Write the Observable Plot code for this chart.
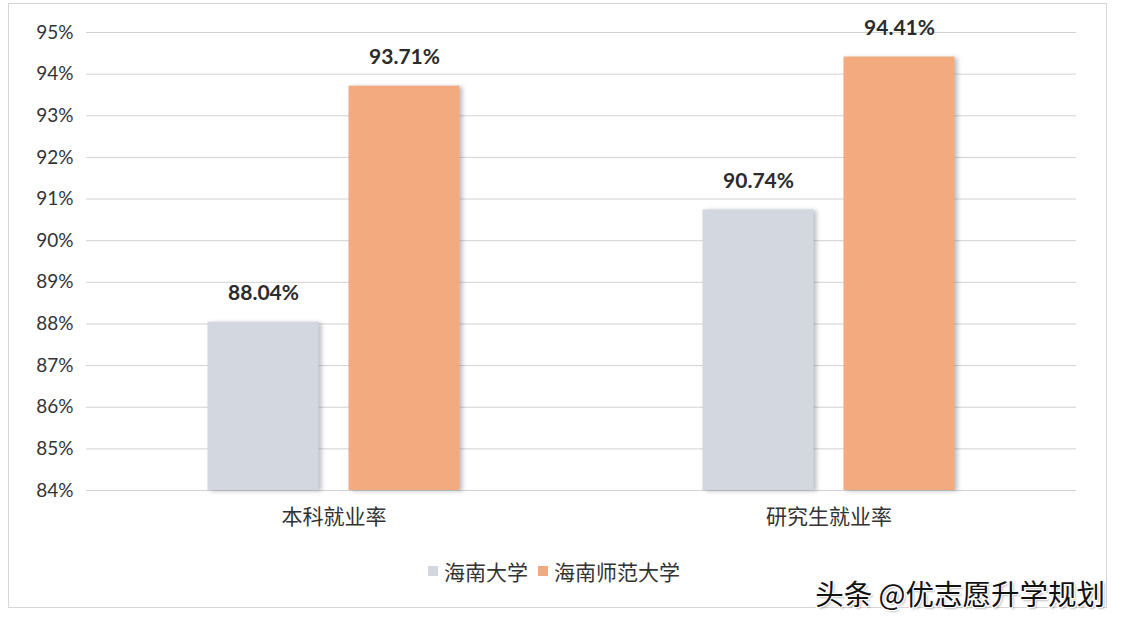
<!DOCTYPE html>
<html>
<head>
<meta charset="utf-8">
<script src="https://cdn.jsdelivr.net/npm/d3@7"></script>
<script src="https://cdn.jsdelivr.net/npm/@observablehq/plot@0.6"></script>
<style>
  html, body { margin: 0; padding: 0; background: #fff; }
  #wrap { position: relative; width: 1124px; height: 624px; overflow: hidden; font-family: Lato, "Noto Sans CJK SC", sans-serif; }
  #frame { position: absolute; left: 8px; top: 3px; width: 1099px; height: 605px; border: 1px solid #d6d6d6; box-sizing: border-box; }
  #chart { position: absolute; left: 0; top: 0; }
  #chart svg g[aria-label="bar"] rect { filter: drop-shadow(3px 1px 2px rgba(90,95,110,0.4)); }
  #legend { position: absolute; top: 556px; left: 428px; display: flex; align-items: center; font-family: "Noto Sans CJK SC", sans-serif; font-size: 21px; color: #333; }
  #legend .sw { width: 10px; height: 10px; display: inline-block; margin-right: 6px; }
  #legend .item { display: flex; align-items: center; margin-right: 10px; }
  #wm { position: absolute; right: 19px; top: 572px; font-family: "Noto Sans CJK SC", sans-serif; font-size: 28.5px; color: #111;
        text-shadow: 1px 1px 0 #fff, -1px -1px 0 #fff, 1px -1px 0 #fff, -1px 1px 0 #fff, 2px 2px 2px rgba(0,0,0,0.25); }
</style>
</head>
<body>
<div id="wrap">
  <div id="frame"></div>
  <div id="chart"></div>
  <div id="legend"></div>
  <div id="wm">头条 @优志愿升学规划</div>
</div>
<script>
const categories = ["本科就业率", "研究生就业率"];
const schools = ["海南大学", "海南师范大学"];
const hainanU = [88.04, 90.74];
const hainanNormalU = [93.71, 94.41];
const colors = ["#d3d8e0", "#f3aa7e"];
const yTicks = [84, 85, 86, 87, 88, 89, 90, 91, 92, 93, 94, 95];

const rows = [];
categories.forEach((c, i) => {
  rows.push({cat: c, school: schools[0], value: hainanU[i]});
  rows.push({cat: c, school: schools[1], value: hainanNormalU[i]});
});
const half = 70.5;
const offsets = [-half, half];

const marks = [
  Plot.ruleY(yTicks, {stroke: "#d2d2d2", strokeWidth: 1})
];
schools.forEach((s, k) => {
  const sub = rows.filter(r => r.school === s);
  marks.push(Plot.barY(sub, {x: "cat", y1: () => 84, y2: "value", fill: colors[k], dx: offsets[k], insetLeft: 0, insetRight: 0}));
  marks.push(Plot.text(sub, {x: "cat", y: "value", text: d => d.value.toFixed(2) + "%", dx: offsets[k], dy: -29,
    fontSize: 21, fontWeight: "bold", fill: "#2b2b2b", fontFamily: "Lato, 'Noto Sans', sans-serif", letterSpacing: "0.5px"}));
});
marks.push(Plot.axisY({ticks: yTicks, tickFormat: d => d + "%", tickSize: 0, tickPadding: 13, fontSize: 19, fill: "#333", fontFamily: "Lato, 'Noto Sans', sans-serif", label: null}));
marks.push(Plot.axisX({tickSize: 0, tickPadding: 19, fontSize: 21, fill: "#333", fontFamily: "'Noto Sans CJK SC', sans-serif", label: null}));

const chart = Plot.plot({
  width: 1124,
  height: 624,
  marginLeft: 86,
  marginRight: 48,
  marginTop: 32,
  marginBottom: 134,
  style: {background: "transparent", overflow: "visible"},
  x: {type: "band", domain: categories, range: [84, 1077], paddingInner: 0.776, paddingOuter: 0.39, axis: null},
  y: {domain: [84, 95], axis: null},
  marks
});
document.getElementById("chart").appendChild(chart);

const legend = document.getElementById("legend");
schools.forEach((s, k) => {
  const it = document.createElement("div");
  it.className = "item";
  const sw = document.createElement("span");
  sw.className = "sw";
  sw.style.background = colors[k];
  const tx = document.createElement("span");
  tx.textContent = s;
  it.appendChild(sw); it.appendChild(tx);
  legend.appendChild(it);
});
</script>
</body>
</html>
